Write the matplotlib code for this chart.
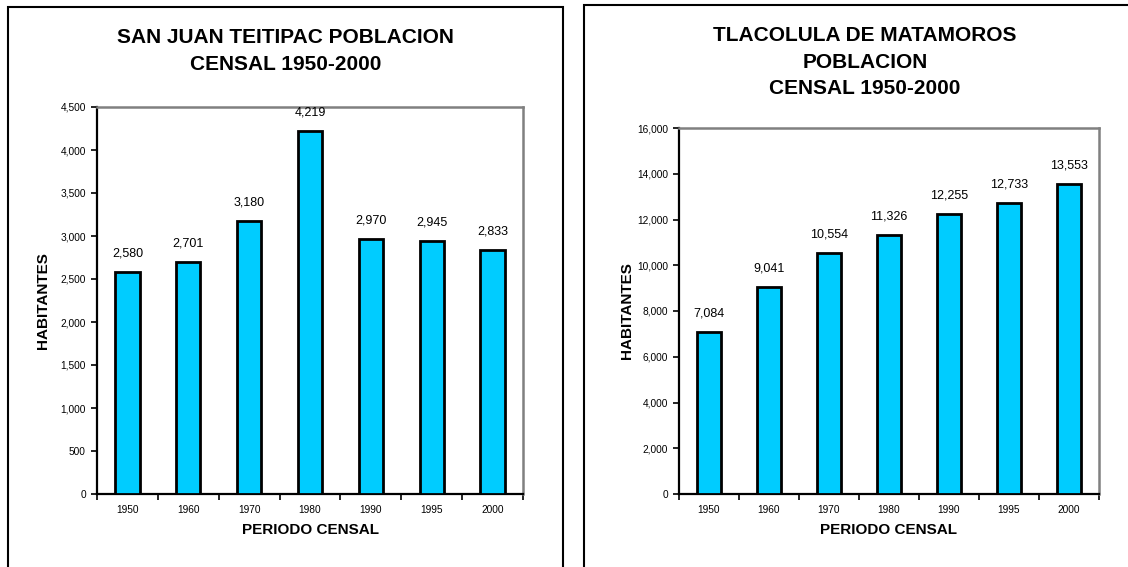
import matplotlib
matplotlib.use("Agg")
import matplotlib.pyplot as plt
from matplotlib.patches import Rectangle
from matplotlib.ticker import FuncFormatter, MultipleLocator

plt.rcParams['font.family'] = ['Liberation Sans', 'DejaVu Sans']

years = ["1950", "1960", "1970", "1980", "1990", "1995", "2000"]
san_juan = [2580, 2701, 3180, 4219, 2970, 2945, 2833]
tlacolula = [7084, 9041, 10554, 11326, 12255, 12733, 13553]

titles = ["SAN JUAN TEITIPAC POBLACION\nCENSAL 1950-2000",
          "TLACOLULA DE MATAMOROS\nPOBLACION\nCENSAL 1950-2000"]

W, H = 1128, 567
fig = plt.figure(figsize=(W / 100, H / 100), dpi=100)

def fx(px):
    return px / W

def fy(py):
    return 1 - py / H

# panel frames (Excel chart areas)
fig.add_artist(Rectangle((fx(8), fy(600)), fx(563 - 8), (600 - 7) / H,
                         fill=False, lw=1.5, ec="black", transform=fig.transFigure))
fig.add_artist(Rectangle((fx(584), fy(600)), fx(1200 - 584), (600 - 5) / H,
                         fill=False, lw=1.5, ec="black", transform=fig.transFigure))

panels = [
    dict(data=san_juan, box=(97, 107, 523, 494), ymax=4500, step=500,
         title_x=285.5, title_y=51, ylab_x=43),
    dict(data=tlacolula, box=(679, 128, 1099, 494), ymax=16000, step=2000,
         title_x=865, title_y=62, ylab_x=627),
]

for p, title in zip(panels, titles):
    x0, y0, x1, y1 = p["box"]
    ax = fig.add_axes([fx(x0), fy(y1), fx(x1 - x0), (y1 - y0) / H])
    xs = range(len(years))
    ax.bar(xs, p["data"], width=0.4, color="#00CCFF", edgecolor="black", linewidth=2, zorder=3)
    for x, v in zip(xs, p["data"]):
        ax.annotate(f"{v:,}", (x, v), xytext=(0, 9), textcoords="offset points",
                    ha="center", va="bottom", fontsize=9)
    ax.set_xlim(-0.5, len(years) - 0.5)
    ax.set_ylim(0, p["ymax"])
    ax.yaxis.set_major_locator(MultipleLocator(p["step"]))
    ax.yaxis.set_major_formatter(FuncFormatter(lambda v, pos: f"{int(v):,}"))
    ax.set_xticks(list(xs))
    ax.set_xticklabels(years)
    ax.set_xticks([i - 0.5 for i in range(len(years) + 1)], minor=True)
    ax.tick_params(axis="x", which="major", length=0, labelsize=7.3, pad=8)
    ax.tick_params(axis="x", which="minor", length=4, width=1.2, direction="out")
    ax.tick_params(axis="y", length=4, width=1.2, direction="out", labelsize=7.3, pad=4)
    for s in ["left", "bottom"]:
        ax.spines[s].set_color("black")
        ax.spines[s].set_linewidth(1.6)
    for s in ["top", "right"]:
        ax.spines[s].set_color("#808080")
        ax.spines[s].set_linewidth(1.8)
    fig.text(fx(p["title_x"]), fy(p["title_y"]), title, ha="center", va="center",
             fontsize=15, fontweight="bold", linespacing=1.5)
    fig.text(fx((x0 + x1) / 2), fy(530), "PERIODO CENSAL", ha="center", va="center",
             fontsize=11, fontweight="bold")
    fig.text(fx(p["ylab_x"]), fy((y0 + y1) / 2), "HABITANTES", ha="center", va="center",
             rotation=90, fontsize=11, fontweight="bold")

fig.savefig("out.png", dpi=100)
